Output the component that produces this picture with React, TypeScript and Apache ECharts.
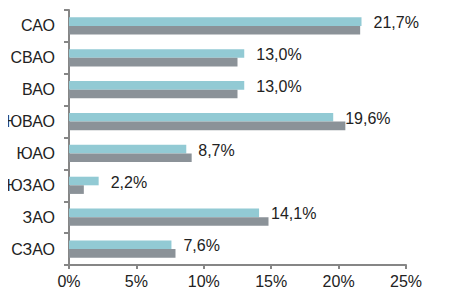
import React, { useEffect, useRef } from "react";
import * as echarts from "echarts";

const categories = ["САО", "СВАО", "ВАО", "ЮВАО", "ЮАО", "ЮЗАО", "ЗАО", "СЗАО"];
const blueValues = [21.7, 13.0, 13.0, 19.6, 8.7, 2.2, 14.1, 7.6];
const grayValues = [21.6, 12.5, 12.5, 20.5, 9.1, 1.1, 14.8, 7.9];
const xTicks = [0, 5, 10, 15, 20, 25];

const FONT = "'Liberation Sans', Arial, sans-serif";

export default function App() {
  const ref = useRef<HTMLDivElement>(null);
  useEffect(() => {
    if (!ref.current) return;
    const chart = echarts.init(ref.current, undefined, { renderer: "svg" });
    chart.setOption({
      animation: false,
      grid: { left: 69, right: 43, top: 10, bottom: 30, containLabel: false },
      xAxis: {
        type: "value",
        min: xTicks[0],
        max: xTicks[xTicks.length - 1],
        interval: 5,
        splitLine: { show: false },
        axisLine: { show: true, lineStyle: { color: "#868686", width: 2 } },
        axisTick: { show: true, length: 4, lineStyle: { color: "#868686", width: 2 } },
        axisLabel: {
          color: "#222",
          fontFamily: FONT,
          fontSize: 16,
          margin: 8,
          formatter: (v: number) => `${v}%`,
        },
      },
      yAxis: {
        type: "category",
        data: categories,
        inverse: true,
        axisLine: { show: true, lineStyle: { color: "#868686", width: 2 } },
        axisTick: { show: true, length: 5, lineStyle: { color: "#868686", width: 2 } },
        axisLabel: { color: "#222", fontFamily: FONT, fontSize: 16, margin: 14 },
      },
      series: [
        {
          type: "bar",
          data: blueValues,
          itemStyle: { color: "#92CAD4" },
          barGap: "0%",
          barCategoryGap: "46%",
          label: {
            show: true,
            position: "right",
            distance: 12,
            offset: [0, 1],
            color: "#222",
            fontFamily: FONT,
            fontSize: 16,
            formatter: (p: any) => `${p.value.toFixed(1).replace(".", ",")}%`,
          },
        },
        {
          type: "bar",
          data: grayValues,
          itemStyle: { color: "#8B9298" },
          barGap: "0%",
          barCategoryGap: "46%",
        },
      ],
    });
    return () => chart.dispose();
  }, []);
  return <div ref={ref} style={{ width: 449, height: 295, margin: -8 }} />;
}
